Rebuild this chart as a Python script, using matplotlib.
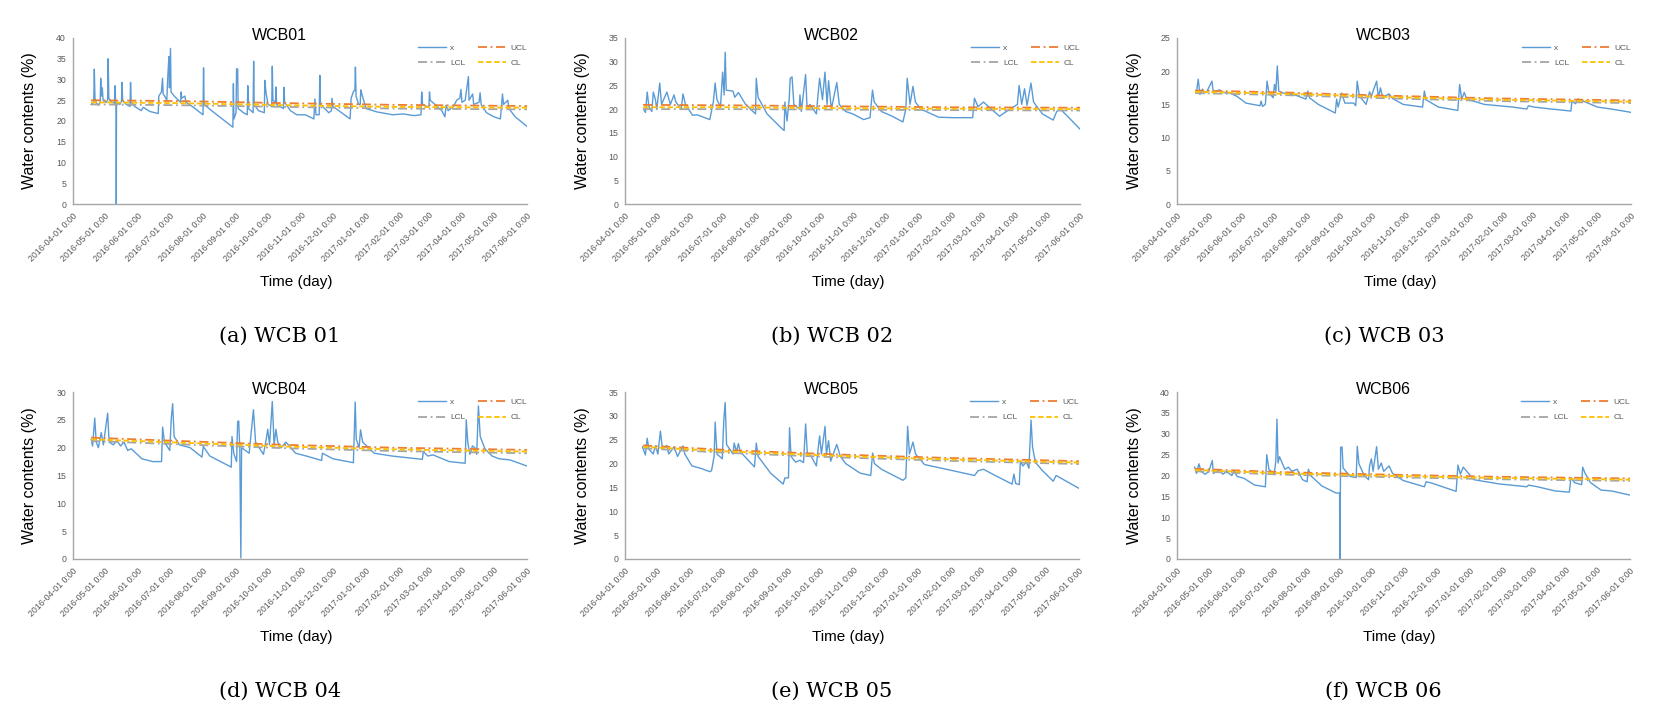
import matplotlib
matplotlib.use('Agg')
import matplotlib.pyplot as plt
import numpy as np
import pandas as pd

plt.rcParams['font.family'] = ['Liberation Sans', 'DejaVu Sans']

start = pd.Timestamp('2016-04-01')
month_ticks = pd.date_range('2016-04-01', '2017-06-01', freq='MS')
tick_labels = [d.strftime('%Y-%m-%d') + ' 0:00' for d in month_ticks]

stations = ['WCB01', 'WCB02', 'WCB03', 'WCB04', 'WCB05', 'WCB06']
captions = ['(a) WCB 01', '(b) WCB 02', '(c) WCB 03', '(d) WCB 04', '(e) WCB 05', '(f) WCB 06']
y_max = [40, 35, 25, 30, 35, 40]

# (days since 2016-04-01, water content %)
wcb01_x = [(17, 24.0), (19.5, 24.5), (20, 32.5), (20.6, 25.5), (22, 24.3), (24, 23.8), (25.5, 24.5), (26, 30.3),
           (26.6, 26.0), (27.5, 28.0), (28.2, 25.0), (31, 24.5), (32.5, 25.0), (33, 35.0), (33.6, 25.5), (36, 24.6),
           (39, 24.3), (39.5, 28.5), (40, 24.5), (40.5, 24.0), (40.6, 0.0), (40.8, 24.5), (44, 24.0), (45.5, 24.8),
           (46, 29.3), (46.6, 25.0), (50, 24.0), (53.5, 23.5), (54, 29.3), (54.6, 24.5), (58, 23.5), (64, 22.5),
           (66, 23.3), (72, 22.3), (80, 21.8), (80.5, 26.0), (83, 27.0), (84, 30.3), (84.6, 26.5), (86, 26.0),
           (88, 25.0), (89, 31.0), (90, 35.5), (90.5, 28.0), (91.5, 37.5), (92, 27.0), (95, 26.0), (99, 25.0),
           (101, 24.5), (101.5, 27.0), (102, 25.5), (105, 26.0), (106, 24.5), (112, 23.5), (122, 21.5), (122.5, 32.8),
           (123, 24.0), (130, 22.5), (140, 20.5), (150, 18.5), (150.5, 29.0), (151, 20.5), (153, 22.0), (153.5, 32.6),
           (154.5, 32.5), (155, 23.0), (160, 22.0), (163.5, 21.5), (164, 28.5), (164.6, 23.0), (167, 22.5), (169, 22.0),
           (169.5, 34.4), (170, 24.0), (174, 22.5), (179.5, 22.0), (180, 29.8), (181, 27.0), (183, 24.0), (186.5, 23.5),
           (187, 33.2), (187.6, 25.0), (190, 24.5), (190.5, 28.2), (191, 24.0), (197.5, 23.0), (198, 28.1), (198.6, 24.5),
           (204, 22.5), (210, 21.5), (218, 21.5), (226, 20.5), (227, 25.3), (228, 21.5), (231, 21.5), (231.6, 31.0),
           (232.2, 24.0), (240, 22.0), (242.5, 22.5), (243, 25.5), (244, 23.5), (252, 22.0), (260, 20.5), (261, 25.5),
           (263, 27.0), (264.5, 27.5), (265, 33.0), (265.6, 26.0), (268, 24.0), (269.5, 24.0), (270, 27.5), (271, 26.5),
           (275, 23.0), (285, 22.2), (300, 21.5), (310, 21.7), (320, 21.3), (326.5, 21.5), (327.2, 27.0), (328, 24.0),
           (332, 23.5), (334, 23.5), (334.5, 27.0), (335.2, 25.0), (346, 22.5), (349, 21.0), (350, 23.8), (352, 22.5),
           (357, 23.5), (360, 25.0), (363, 25.5), (364, 27.6), (365, 24.5), (368, 25.0), (371, 30.7), (371.6, 25.0),
           (375, 26.5), (376, 24.0), (381, 24.5), (382, 26.8), (383, 24.0), (388, 22.0), (395, 21.0), (401, 20.5),
           (403, 26.5), (404, 24.0), (408, 25.0), (409, 23.0), (415, 21.0), (426, 18.7)]

wcb02_x = [(17.4, 20.0), (19.1, 19.3), (20.8, 23.6), (22.4, 20.5), (25.1, 19.5), (26.5, 23.6), (28.5, 22.0), (29.8, 20.0),
           (32.5, 25.5), (34.2, 21.0), (39.2, 23.6), (42.5, 21.0), (45.9, 23.0), (47.6, 21.5), (52.6, 20.0), (54.3, 23.2),
           (56.6, 21.0), (63.3, 18.7), (67.6, 18.8), (79.4, 17.8), (82.7, 21.5), (84.4, 25.5), (86.1, 22.0), (89.4, 20.5),
           (91.4, 27.8), (92.8, 23.0), (93.8, 32.0), (94.8, 24.0), (101.1, 23.8), (102.8, 22.5), (106.2, 23.5),
           (112.9, 21.0), (122.2, 19.0), (122.9, 26.5), (124.6, 22.5), (133, 19.0), (146.4, 16.0), (149, 15.5),
           (149.7, 21.5), (151.7, 17.5), (153.7, 22.0), (154.7, 26.5), (156.4, 26.8), (158.1, 21.0), (163.1, 20.0),
           (163.8, 23.0), (165.1, 19.5), (169.1, 27.3), (170.5, 20.0), (173.1, 21.0), (179.2, 19.0), (180.5, 22.5),
           (182.2, 26.5), (184.9, 22.0), (187.2, 27.8), (189.2, 21.0), (190.6, 26.0), (193.2, 20.0), (198.3, 25.6),
           (200.6, 21.0), (206.6, 19.5), (213.3, 19.0), (223.4, 17.8), (229.4, 18.2), (231.7, 24.0), (233.4, 21.5),
           (240.1, 19.5), (250.2, 18.5), (260.2, 17.3), (262.9, 20.0), (264.2, 26.5), (266.9, 21.0), (269.6, 24.8),
           (271.9, 21.5), (277, 20.0), (293.7, 18.3), (307.1, 18.2), (325.5, 18.2), (327.2, 22.3), (330.5, 20.5),
           (335.6, 21.5), (340.6, 20.5), (350.6, 18.5), (355.7, 19.3), (364, 20.5), (367.4, 21.0), (369, 25.0),
           (371.4, 21.0), (374.1, 24.3), (376.4, 20.8), (380.1, 25.5), (382.5, 21.5), (390.8, 19.0), (400.9, 17.7),
           (404.2, 19.5), (407.6, 20.0), (414.3, 18.5), (426, 15.8)]

wcb03_x = [(18.2, 16.8), (19.9, 18.8), (21.5, 16.5), (23.9, 17.3), (25.9, 16.7), (28.2, 17.0), (32.8, 18.5), (34.1, 16.7),
           (39.8, 17.2), (43.1, 16.8), (49.7, 16.7), (56.4, 16.2), (64.6, 15.2), (77.9, 14.8), (78.9, 15.5), (80.2, 14.7),
           (82.9, 15.0), (84.5, 18.5), (86.2, 16.8), (90.2, 16.0), (91.5, 18.0), (92.8, 17.0), (94.1, 20.8), (95.5, 17.0),
           (99.5, 16.7), (109.4, 16.5), (121, 15.8), (122.7, 17.0), (124.3, 16.0), (132.6, 15.0), (148.5, 13.7),
           (149.8, 15.8), (151.2, 14.6), (154.5, 16.7), (157.5, 15.2), (165.8, 15.2), (167.7, 14.8), (169.1, 18.5),
           (171.1, 16.3), (177.4, 15.0), (180.7, 16.9), (182.3, 16.2), (187.3, 18.5), (189, 16.0), (190.9, 17.5),
           (192.9, 16.0), (198.9, 16.6), (202.2, 15.9), (212.2, 15.0), (230.4, 14.6), (232.1, 17.0), (233.7, 15.7),
           (245.3, 14.6), (263.5, 14.1), (265.2, 18.0), (267.2, 15.8), (269.5, 16.8), (271.8, 15.8), (288.4, 15.0),
           (314.9, 14.6), (328.2, 14.3), (329.8, 14.8), (334.8, 14.6), (351.4, 14.3), (369.6, 14.0), (370.6, 15.5),
           (373.9, 15.1), (376.3, 15.8), (381.2, 15.5), (394.5, 14.6), (407.7, 14.3), (426, 13.8)]

wcb04_x = [(17.1, 21.5), (18.4, 20.3), (20.4, 25.3), (21.8, 21.0), (23.8, 20.0), (26.5, 22.7), (28.5, 20.5), (32.5, 26.2),
           (33.9, 21.0), (37.9, 20.5), (41.2, 21.3), (44.6, 20.3), (47.9, 21.0), (51.3, 19.5), (54.6, 19.8), (64.7, 18.0),
           (74.7, 17.5), (83.1, 17.5), (84.1, 23.7), (85.8, 21.0), (90.8, 19.5), (92.2, 25.2), (93.5, 27.9), (94.9, 22.0),
           (99.9, 20.5), (109.9, 20.0), (121, 18.3), (122.3, 20.2), (128.4, 18.5), (148.5, 16.5), (149.2, 22.0),
           (150.8, 19.0), (153.5, 17.5), (154.5, 24.7), (155.5, 24.8), (156.5, 20.0), (157.5, 0.2), (158.2, 20.0),
           (165.3, 19.0), (169.3, 26.8), (171.3, 21.0), (178.7, 18.8), (181.3, 21.5), (182.7, 23.3), (184.4, 20.5),
           (187, 28.3), (188.7, 20.5), (190.4, 23.3), (192.1, 21.0), (195.4, 20.0), (199.8, 21.0), (208.8, 19.0),
           (218.9, 18.5), (233.3, 17.7), (234, 19.0), (244, 18.0), (263.1, 17.3), (264.8, 28.2), (265.8, 21.5),
           (268.5, 20.0), (269.8, 23.2), (271.8, 21.0), (282.6, 19.0), (299.3, 18.5), (327.8, 17.9), (328.8, 19.3),
           (332.9, 18.5), (337.9, 18.7), (353, 17.5), (368, 17.2), (369, 25.0), (370.4, 21.0), (372.4, 18.8),
           (374.8, 20.3), (377.1, 20.0), (378.8, 18.8), (380.4, 27.5), (382.1, 22.0), (386.5, 19.8), (393.2, 18.5),
           (399.9, 18.0), (410, 17.8), (426, 16.7)]

wcb05_x = [(16.4, 23.5), (19.1, 21.8), (20.8, 25.3), (22.5, 23.0), (26.5, 22.0), (28.5, 23.7), (30.9, 22.0), (33.2, 26.8),
           (35.2, 23.0), (39.3, 23.8), (41, 22.0), (46, 23.5), (49.3, 21.5), (54.4, 23.7), (56.1, 22.0), (62.8, 19.5),
           (71.2, 19.0), (79.6, 18.3), (81.2, 18.5), (83.6, 21.5), (84.6, 28.7), (86.3, 22.0), (91.3, 21.0), (92.3, 27.0),
           (93, 30.1), (94, 32.8), (95.3, 24.0), (101.4, 22.0), (102.4, 24.3), (104.7, 22.5), (106.4, 24.2), (108.1, 22.5),
           (121.5, 19.3), (123.2, 24.3), (124.9, 21.5), (136.6, 18.0), (148.4, 15.7), (150.1, 17.0), (153.4, 17.0),
           (154.4, 27.5), (155.8, 21.5), (160.1, 20.3), (164.2, 20.7), (167.5, 20.2), (169.5, 28.3), (171.2, 21.5),
           (173.6, 22.0), (179.6, 19.5), (180.9, 22.5), (182.6, 25.8), (184.3, 22.0), (187.7, 27.8), (189, 22.0),
           (191, 24.8), (193, 20.5), (198.7, 24.0), (202.1, 21.5), (207.1, 20.0), (220.6, 18.0), (230.6, 17.5),
           (232.3, 22.2), (234, 20.0), (240.7, 18.8), (260.8, 16.5), (263.5, 17.0), (265.2, 27.8), (266.9, 22.0),
           (270.2, 24.5), (272.6, 22.0), (281, 19.8), (307.8, 18.5), (328, 17.5), (331.3, 18.5), (336.4, 18.8),
           (344.8, 17.8), (363.2, 15.7), (364.9, 17.8), (366.6, 15.8), (370, 15.6), (371, 20.5), (373.3, 19.5),
           (376.7, 20.3), (379, 19.0), (381, 29.1), (382.4, 23.5), (385, 20.3), (391.8, 18.5), (401.8, 16.3),
           (404.5, 17.5), (408.5, 17.0), (426, 14.8)]

wcb06_x = [(16.6, 22.0), (18.3, 20.5), (20.6, 22.8), (22.6, 21.0), (26.6, 20.3), (29.9, 21.0), (33.2, 23.6), (34.2, 20.5),
           (39.9, 21.3), (43.2, 20.3), (46.5, 21.0), (51.5, 20.0), (53.8, 21.0), (56.5, 19.8), (63.1, 19.3), (73.1, 17.7),
           (83.1, 17.3), (84.4, 25.0), (86.4, 21.5), (91.4, 20.3), (93, 23.7), (94, 33.5), (95, 23.0), (96.4, 24.5),
           (101.4, 21.5), (104.7, 22.0), (108, 21.0), (113, 21.5), (118, 19.0), (122.3, 18.5), (123.6, 21.5),
           (125.6, 20.0), (136.2, 17.5), (149.5, 15.8), (152.9, 15.8), (153.2, 0.0), (153.9, 26.8), (155.2, 26.8),
           (156.2, 21.8), (162.8, 19.8), (168.5, 19.5), (169.5, 27.0), (171.1, 22.8), (176.1, 20.0), (180.1, 19.0),
           (181.1, 22.3), (182.8, 24.0), (184.4, 21.0), (187.7, 26.9), (189.4, 21.5), (192.1, 23.0), (194.4, 21.0),
           (199.4, 22.3), (202.7, 20.5), (212.7, 18.8), (232.6, 17.3), (234.3, 18.5), (239.3, 18.2), (262.5, 16.2),
           (264.2, 22.5), (266.5, 20.3), (269.2, 22.0), (279.1, 19.0), (302.4, 18.0), (329, 17.3), (330.6, 17.7),
           (339, 17.3), (355.6, 16.3), (368.9, 16.0), (370.5, 19.5), (373.8, 18.3), (380.5, 17.8), (381.5, 22.0),
           (383.8, 20.5), (388.8, 18.3), (398.8, 16.5), (408.7, 16.3), (426, 15.3)]

# control limits read at a few days
ctl_days = [17, 100, 200, 300, 426]
ucl = [[25.0, 24.8, 24.3, 23.9, 23.6], [20.9, 20.8, 20.6, 20.4, 20.3], [17.1, 16.8, 16.3, 15.9, 15.6],
       [21.8, 21.2, 20.5, 20.0, 19.6], [23.8, 22.8, 21.9, 21.2, 20.5], [21.6, 20.8, 20.2, 19.7, 19.3]]
cl = [[24.5, 24.3, 23.8, 23.4, 23.2], [20.4, 20.4, 20.2, 20.1, 20.0], [16.9, 16.6, 16.1, 15.7, 15.4],
      [21.5, 20.9, 20.2, 19.7, 19.3], [23.5, 22.5, 21.6, 20.9, 20.2], [21.3, 20.5, 19.9, 19.4, 19.0]]
lcl = [[24.0, 23.8, 23.4, 23.0, 22.8], [20.0, 20.0, 19.9, 19.8, 19.7], [16.7, 16.4, 15.9, 15.5, 15.2],
       [21.2, 20.6, 19.9, 19.4, 19.0], [23.2, 22.2, 21.3, 20.6, 19.9], [21.0, 20.2, 19.6, 19.1, 18.7]]

series = [wcb01_x, wcb02_x, wcb03_x, wcb04_x, wcb05_x, wcb06_x]

W, H = 1664, 719
# axes boxes in pixels: left, top, right, bottom
boxes = [(73, 38, 527, 204), (625, 38, 1080, 204), (1177, 38, 1631, 204),
         (73, 392, 527, 559), (625, 392, 1079, 559), (1177, 392, 1630, 559)]

fig = plt.figure(figsize=(W / 100, H / 100), dpi=100)

def to_dates(days):
    return start + pd.to_timedelta(np.asarray(days, dtype=float), unit='D')

for i in range(6):
    l, t, r, b = boxes[i]
    ax = fig.add_axes([l / W, 1 - b / H, (r - l) / W, (b - t) / H])
    d = np.array(series[i])
    ax.plot(to_dates(d[:, 0]), d[:, 1], color='#5B9BD5', lw=1.0, label='x', zorder=2)
    cd = to_dates(ctl_days)
    ax.plot(cd, ucl[i], color='#ED7D31', lw=1.3, dashes=(5, 2, 1, 2), label='UCL', zorder=3)
    ax.plot(cd, lcl[i], color='#A5A5A5', lw=1.3, dashes=(5, 2, 1, 2), label='LCL', zorder=3)
    ax.plot(cd, cl[i], color='#FFC000', lw=1.3, dashes=(3, 1.5), label='CL', zorder=3)

    ax.set_xlim(month_ticks[0], month_ticks[-1])
    ax.set_ylim(0, y_max[i])
    ax.set_yticks(range(0, y_max[i] + 1, 5))
    ax.set_xticks(month_ticks)
    ax.set_xticklabels(tick_labels, rotation=45, ha='right', rotation_mode='anchor')
    ax.tick_params(length=0, labelsize=6.3, labelcolor='#595959', pad=5)
    for s in ['top', 'right']:
        ax.spines[s].set_visible(False)
    for s in ['left', 'bottom']:
        ax.spines[s].set_color('#A6A6A6')
        ax.spines[s].set_linewidth(1.0)

    h, lab = ax.get_legend_handles_labels()
    order = [0, 2, 1, 3]
    ax.legend([h[k] for k in order], [lab[k] for k in order], ncol=2, loc='upper right',
              bbox_to_anchor=(1.0, 0.965), frameon=False, fontsize=6, handlelength=3.4,
              handletextpad=0.5, columnspacing=1.5, labelspacing=0.95, borderpad=0,
              borderaxespad=0, labelcolor='#595959')

    fig.text((l + 206) / W, 1 - (t - 2) / H, stations[i], ha='center', va='center', fontsize=11.5)
    fig.text((l - 43) / W, 1 - ((t + b) / 2) / H, 'Water contents (%)', rotation=90,
             ha='center', va='center', fontsize=11.5)
    fig.text(((l + r) / 2 - 4) / W, 1 - (b + 78) / H, 'Time (day)', ha='center', va='center', fontsize=11)
    fig.text(((l + r) / 2 - 20) / W, 1 - (b + 132) / H, captions[i], ha='center', va='center',
             fontsize=15, family=['DejaVu Serif'])

fig.savefig('out.png', dpi=100)
